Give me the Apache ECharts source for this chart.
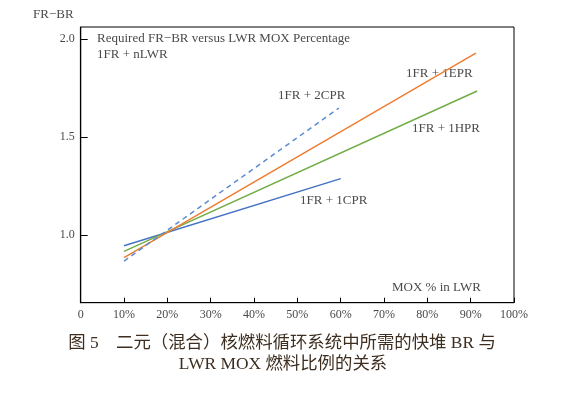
<!DOCTYPE html>
<html>
<head>
<meta charset="utf-8">
<script src="https://cdn.jsdelivr.net/npm/echarts@6/dist/echarts.min.js"></script>
<style>
html,body{margin:0;padding:0;background:#fff;}
#chart{width:580px;height:393px;}
</style>
</head>
<body>
<div id="chart"></div>
<script>
// Data
const xTicks = [0, 10, 20, 30, 40, 50, 60, 70, 80, 90, 100];
const yTickValues = [1.0, 1.5, 2.0];
const cpr1X = [10, 60];
const cpr1Y = [0.945, 1.288];
const hpr1X = [10, 91.5];
const hpr1Y = [0.916, 1.736];
const epr1X = [10, 91.2];
const epr1Y = [0.884, 1.930];
const cpr2X = [10, 59.6];
const cpr2Y = [0.867, 1.649];
const seriesNames = ['1FR + 1CPR', '1FR + 1HPR', '1FR + 1EPR', '1FR + 2CPR'];
const captionLine1 = '图 5　二元（混合）核燃料循环系统中所需的快堆 BR 与';
const captionLine2 = 'LWR MOX 燃料比例的关系';

function pairs(xs, ys) { return xs.map((x, i) => [x, ys[i]]); }

const chart = echarts.init(document.getElementById('chart'), null, {renderer: 'canvas'});
const serif = '"Liberation Serif", "DejaVu Serif", serif';
const txtColor = '#4a4a4a';

const lineDefs = [
  {name: seriesNames[0], data: pairs(cpr1X, cpr1Y), color: '#4472C4', type: 'solid'},
  {name: seriesNames[1], data: pairs(hpr1X, hpr1Y), color: '#70AD47', type: 'solid'},
  {name: seriesNames[2], data: pairs(epr1X, epr1Y), color: '#ED7D31', type: 'solid'},
  {name: seriesNames[3], data: pairs(cpr2X, cpr2Y), color: '#5B8BD3', type: [5, 4]}
];

const labelStyle = {fontFamily: serif, fontSize: 13, fill: txtColor};
function txt(x, y, text, extra) {
  return {type: 'text', left: x, top: y, style: Object.assign({text: text}, labelStyle, extra || {})};
}
const capFont = '"Liberation Serif", "Noto Sans CJK SC"';

chart.setOption({
  animation: false,
  backgroundColor: '#fff',
  grid: {left: 80.7, right: 66, top: 27, bottom: 90.3, show: true, borderColor: '#000', borderWidth: 1, containLabel: false},
  xAxis: {
    type: 'value', min: 0, max: 100, interval: 10,
    axisLine: {lineStyle: {color: '#000', width: 1.2}},
    axisTick: {inside: true, length: 5, lineStyle: {color: '#000'}},
    splitLine: {show: false},
    axisLabel: {
      margin: 6, color: txtColor, fontFamily: serif, fontSize: 12,
      formatter: v => (v === 0 ? '0' : v + '%')
    }
  },
  yAxis: {
    type: 'value', min: 0.654, max: 2.063,
    axisLine: {show: true, lineStyle: {color: '#000', width: 1.2}},
    axisTick: {show: true, inside: true, length: 7, customValues: yTickValues, lineStyle: {color: '#000'}},
    splitLine: {show: false},
    axisLabel: {
      customValues: yTickValues, margin: 6, color: txtColor, fontFamily: serif, fontSize: 12,
      formatter: v => Number(v).toFixed(1)
    }
  },
  series: lineDefs.map(d => ({
    name: d.name, type: 'line', data: d.data, symbol: 'none',
    lineStyle: {color: d.color, width: 1.5, type: d.type}
  })),
  graphic: [
    txt(33, 8, 'FR−BR'),
    txt(97, 32, 'Required FR−BR versus LWR MOX Percentage'),
    txt(97, 48, '1FR + nLWR'),
    txt(278, 89, '1FR + 2CPR'),
    txt(406, 67, '1FR + 1EPR'),
    txt(412, 122, '1FR + 1HPR'),
    txt(300, 194, '1FR + 1CPR'),
    txt(392, 281, 'MOX % in LWR'),
    {type: 'text', x: 282, y: 343, style: {text: captionLine1, fontFamily: capFont, fontSize: 17.4, fill: '#3d2e20', align: 'center', verticalAlign: 'middle'}},
    {type: 'text', x: 283, y: 364, style: {text: captionLine2, fontFamily: capFont, fontSize: 17.4, fill: '#3d2e20', align: 'center', verticalAlign: 'middle'}}
  ]
});
</script>
</body>
</html>
